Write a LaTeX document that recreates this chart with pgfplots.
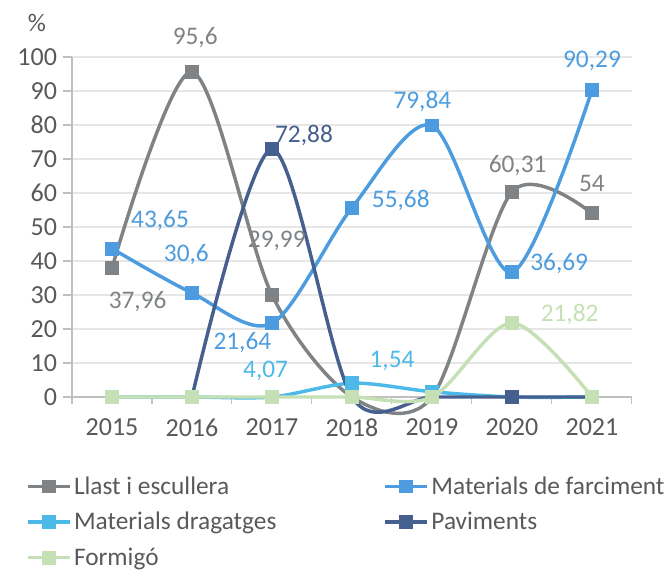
\documentclass[border=0pt]{standalone}
\usepackage{pgfplots}
\pgfplotsset{compat=1.18}
\usepackage{fontspec}
\setmainfont{Carlito}
\definecolor{cgray}{HTML}{808385}
\definecolor{cblue}{HTML}{4C9CDF}
\definecolor{ccyan}{HTML}{4DB9E9}
\definecolor{cnavy}{HTML}{45608F}
\definecolor{cgreen}{HTML}{C5E0B4}
\definecolor{ctxt}{HTML}{595959}
\definecolor{cgrid}{HTML}{E6E6E6}
\definecolor{caxis}{HTML}{BFBFBF}
\tikzset{
  lab/.style={font=\fontsize{19}{22}\selectfont, anchor=center},
}
\begin{document}
\begin{tikzpicture}
\begin{axis}[
  scale only axis, width=420pt, height=255pt,
  xmin=2014.5, xmax=2021.5, ymin=0, ymax=100,
  clip=false,
  axis lines=left, axis line style={-, draw=caxis, line width=0.8pt},
  xtick={2015,...,2021}, minor xtick={2014.5,...,2021.5},
  xticklabel style={/pgf/number format/1000 sep={}},
  ytick={0,10,...,100},
  tick align=outside,
  xtick style={draw=none},
  minor x tick style={draw=caxis, line width=0.8pt},
  minor tick length=5pt,
  ytick style={draw=caxis, line width=0.8pt},
  major tick length=6.75pt,
  ymajorgrids, grid style={draw=cgrid, line width=0.8pt},
  tick label style={font=\fontsize{19.5}{22}\selectfont, text=ctxt},
  /pgf/number format/assume math mode=true,
  yticklabel style={xshift=-1pt},
  xticklabel style={yshift=-6pt},
  ylabel={\%}, ylabel style={rotate=-90, at={(axis description cs:-0.0625,1.1)}, anchor=center,
    font=\fontsize{19}{22}\selectfont, text=ctxt},
  every axis plot/.append style={line width=2.6pt, smooth, tension=0.5, mark=square*, mark size=3.9pt,
    mark options={solid}},
  legend columns=2,
  legend cell align=left,
  legend style={at={(axis description cs:-0.09,-0.218)}, anchor=north west, draw=none, fill=none,
    font=\fontsize{19}{22}\selectfont, text=ctxt, row sep=8pt,
    /tikz/every even column/.append style={column sep=0pt}},
  legend image code/.code={\draw[mark repeat=2,mark phase=2] plot[sharp plot] coordinates {(0pt,0pt)(15.75pt,0pt)(31.5pt,0pt)};},
]
\addplot[cgray] coordinates {(2015,37.96)(2016,95.6)(2017,29.99)(2018,0)(2019,0)(2020,60.31)(2021,54)};
\addlegendentry{\makebox[230pt][l]{Llast i escullera}}
\addplot[cblue] coordinates {(2015,43.65)(2016,30.6)(2017,21.64)(2018,55.68)(2019,79.84)(2020,36.69)(2021,90.29)};
\addlegendentry{Materials de farciment}
\addplot[ccyan] coordinates {(2015,0)(2016,0)(2017,0)(2018,4.07)(2019,1.54)(2020,0)(2021,0)};
\addlegendentry{Materials dragatges}
\addplot[cnavy] coordinates {(2016,0)(2017,72.88)(2018,0)(2019,0)(2020,0)(2021,0)};
\addlegendentry{Paviments}
\addplot[cgreen] coordinates {(2015,0)(2016,0)(2017,0)(2018,0)(2019,0)(2020,21.82)(2021,0)};
\addlegendentry{Formigó}
% data labels
\node[lab, text=cgray] at (axis cs:2016.04,105.6) {95,6};
\node[lab, text=cgray] at (axis cs:2015.32,28) {37,96};
\node[lab, text=cgray] at (axis cs:2017.06,46) {29,99};
\node[lab, text=cgray] at (axis cs:2020.07,68) {60,31};
\node[lab, text=cgray] at (axis cs:2021,62.9) {54};
\node[lab, text=cblue] at (axis cs:2015.6,51.8) {43,65};
\node[lab, text=cblue] at (axis cs:2015.93,41.8) {30,6};
\node[lab, text=cblue] at (axis cs:2016.63,15.9) {21,64};
\node[lab, text=cblue] at (axis cs:2018.61,57.9) {55,68};
\node[lab, text=cblue] at (axis cs:2018.88,86.8) {79,84};
\node[lab, text=cblue] at (axis cs:2020.59,39.1) {36,69};
\node[lab, text=cblue] at (axis cs:2021,98.9) {90,29};
\node[lab, text=ccyan] at (axis cs:2016.92,7.6) {4,07};
\node[lab, text=ccyan] at (axis cs:2018.5,10.5) {1,54};
\node[lab, text=cnavy] at (axis cs:2017.4,76.8) {72,88};
\node[lab, text=cgreen] at (axis cs:2020.72,24.2) {21,82};
\end{axis}
\pgfresetboundingbox
\path[use as bounding box] (-54pt,-134pt) rectangle (447pt,297.75pt);
\end{tikzpicture}
\end{document}
